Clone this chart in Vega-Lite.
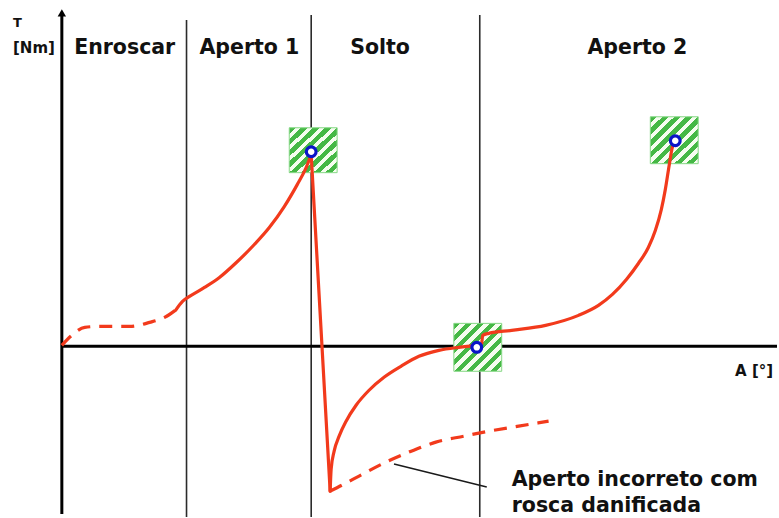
{
  "$schema": "https://vega.github.io/schema/vega-lite/v6.json",
  "width": 779,
  "height": 518,
  "padding": 0,
  "autosize": {"type": "fit", "contains": "padding"},
  "background": "white",
  "config": {"view": {"stroke": null}},
  "datasets": {
    "separadores": [
      {"a": 125, "t0": -171, "t1": 327},
      {"a": 250, "t0": -171, "t1": 332},
      {"a": 419, "t0": -171, "t1": 332}
    ],
    "eixos": [
      {"eixo": "T", "a0": 0, "a1": 0, "t0": -168, "t1": 331},
      {"eixo": "A", "a0": 0, "a1": 717, "t0": 0, "t1": 0}
    ],
    "janelas": [
      {"a0": 228, "a1": 276, "t0": 174, "t1": 219},
      {"a0": 393, "a1": 441, "t0": -25, "t1": 23},
      {"a0": 590, "a1": 638, "t0": 183, "t1": 230}
    ],
    "curvas": [
      {"serie": "aperto1", "o": 1, "a": 114, "t": 36},
      {"serie": "aperto1", "o": 2, "a": 121, "t": 45},
      {"serie": "aperto1", "o": 3, "a": 128, "t": 50},
      {"serie": "aperto1", "o": 4, "a": 143, "t": 59},
      {"serie": "aperto1", "o": 5, "a": 158, "t": 69},
      {"serie": "aperto1", "o": 6, "a": 175, "t": 84},
      {"serie": "aperto1", "o": 7, "a": 193, "t": 102},
      {"serie": "aperto1", "o": 8, "a": 208, "t": 119},
      {"serie": "aperto1", "o": 9, "a": 223, "t": 140},
      {"serie": "aperto1", "o": 10, "a": 236, "t": 162},
      {"serie": "aperto1", "o": 11, "a": 244, "t": 177},
      {"serie": "aperto1", "o": 12, "a": 250, "t": 192},
      {"serie": "queda", "o": 1, "a": 250, "t": 192},
      {"serie": "queda", "o": 2, "a": 269, "t": -145},
      {"serie": "solto", "o": 1, "a": 269, "t": -145},
      {"serie": "solto", "o": 2, "a": 270, "t": -123},
      {"serie": "solto", "o": 3, "a": 273, "t": -105},
      {"serie": "solto", "o": 4, "a": 278, "t": -90},
      {"serie": "solto", "o": 5, "a": 285, "t": -75},
      {"serie": "solto", "o": 6, "a": 295, "t": -59},
      {"serie": "solto", "o": 7, "a": 308, "t": -44},
      {"serie": "solto", "o": 8, "a": 323, "t": -31},
      {"serie": "solto", "o": 9, "a": 340, "t": -20},
      {"serie": "solto", "o": 10, "a": 358, "t": -10},
      {"serie": "solto", "o": 11, "a": 378, "t": -4},
      {"serie": "solto", "o": 12, "a": 398, "t": -1},
      {"serie": "solto", "o": 13, "a": 418, "t": 1},
      {"serie": "aperto2", "o": 1, "a": 421, "t": 3},
      {"serie": "aperto2", "o": 2, "a": 422, "t": 11},
      {"serie": "aperto2", "o": 3, "a": 428, "t": 13},
      {"serie": "aperto2", "o": 4, "a": 451, "t": 16},
      {"serie": "aperto2", "o": 5, "a": 485, "t": 21},
      {"serie": "aperto2", "o": 6, "a": 518, "t": 31},
      {"serie": "aperto2", "o": 7, "a": 538, "t": 41},
      {"serie": "aperto2", "o": 8, "a": 552, "t": 52},
      {"serie": "aperto2", "o": 9, "a": 566, "t": 67},
      {"serie": "aperto2", "o": 10, "a": 578, "t": 83},
      {"serie": "aperto2", "o": 11, "a": 588, "t": 99},
      {"serie": "aperto2", "o": 12, "a": 595, "t": 116},
      {"serie": "aperto2", "o": 13, "a": 601, "t": 137},
      {"serie": "aperto2", "o": 14, "a": 605, "t": 157},
      {"serie": "aperto2", "o": 15, "a": 609, "t": 182},
      {"serie": "aperto2", "o": 16, "a": 612, "t": 199},
      {"serie": "aperto2", "o": 17, "a": 614, "t": 205}
    ],
    "tracejadas": [
      {"serie": "enroscar", "o": 1, "a": 0, "t": 1},
      {"serie": "enroscar", "o": 2, "a": 10, "t": 11},
      {"serie": "enroscar", "o": 3, "a": 23, "t": 19},
      {"serie": "enroscar", "o": 4, "a": 38, "t": 20},
      {"serie": "enroscar", "o": 5, "a": 68, "t": 20},
      {"serie": "enroscar", "o": 6, "a": 88, "t": 24},
      {"serie": "enroscar", "o": 7, "a": 103, "t": 29},
      {"serie": "enroscar", "o": 8, "a": 115, "t": 37},
      {"serie": "danificada", "o": 1, "a": 269, "t": -145},
      {"serie": "danificada", "o": 2, "a": 281, "t": -139},
      {"serie": "danificada", "o": 3, "a": 298, "t": -130},
      {"serie": "danificada", "o": 4, "a": 325, "t": -116},
      {"serie": "danificada", "o": 5, "a": 348, "t": -106},
      {"serie": "danificada", "o": 6, "a": 375, "t": -96},
      {"serie": "danificada", "o": 7, "a": 403, "t": -90},
      {"serie": "danificada", "o": 8, "a": 428, "t": -85},
      {"serie": "danificada", "o": 9, "a": 458, "t": -80},
      {"serie": "danificada", "o": 10, "a": 488, "t": -75}
    ],
    "pontos": [
      {"a": 250, "t": 195},
      {"a": 416, "t": -1},
      {"a": 615, "t": 206}
    ],
    "rotulos_centro": [
      {"texto": "Enroscar", "a": 63, "t": 293},
      {"texto": "Aperto 1", "a": 188, "t": 293},
      {"texto": "Solto", "a": 319, "t": 293},
      {"texto": "Aperto 2", "a": 577, "t": 293}
    ],
    "rotulos_esquerda": [
      {"texto": "T", "a": -49, "t": 320, "tam": 13},
      {"texto": "[Nm]", "a": -49, "t": 294, "tam": 15},
      {"texto": "A [°]", "a": 675, "t": -30, "tam": 15},
      {"texto": "Aperto incorreto com", "a": 451, "t": -140, "tam": 20.5},
      {"texto": "rosca danificada", "a": 451, "t": -166, "tam": 20.5}
    ]
  },
  "layer": [
    {
      "data": {"name": "separadores"},
      "mark": {"type": "rule", "color": "#2b2b2b", "strokeWidth": 1.6},
      "encoding": {
        "x": {"field": "a", "type": "quantitative", "axis": null, "scale": {"domain": [-62, 717], "nice": false, "zero": false}},
        "y": {"field": "t0", "type": "quantitative", "axis": null, "scale": {"domain": [-171, 347], "nice": false, "zero": false}},
        "y2": {"field": "t1"}
      }
    },
    {
      "data": {"name": "eixos"},
      "mark": {"type": "rule", "color": "#000000", "strokeWidth": 3},
      "encoding": {
        "x": {"field": "a0", "type": "quantitative"},
        "x2": {"field": "a1"},
        "y": {"field": "t0", "type": "quantitative"},
        "y2": {"field": "t1"}
      }
    },
    {
      "data": {"values": [{"a": 0, "t": 334}]},
      "mark": {"type": "point", "shape": "triangle-up", "filled": true, "color": "#000000", "size": 70, "opacity": 1},
      "encoding": {
        "x": {"field": "a", "type": "quantitative"},
        "y": {"field": "t", "type": "quantitative"}
      }
    },
    {
      "data": {"name": "janelas"},
      "mark": {
        "type": "rect",
        "stroke": "#86d886",
        "strokeWidth": 1,
        "fill": {
          "gradient": "linear",
          "x1": 0, "y1": 0, "x2": 1, "y2": 1,
          "stops": [
            {"offset": 0, "color": "#45b845"},
            {"offset": 0.07, "color": "#45b845"},
            {"offset": 0.07, "color": "#f6fdf0"},
            {"offset": 0.125, "color": "#f6fdf0"},
            {"offset": 0.125, "color": "#45b845"},
            {"offset": 0.195, "color": "#45b845"},
            {"offset": 0.195, "color": "#f6fdf0"},
            {"offset": 0.25, "color": "#f6fdf0"},
            {"offset": 0.25, "color": "#45b845"},
            {"offset": 0.32, "color": "#45b845"},
            {"offset": 0.32, "color": "#f6fdf0"},
            {"offset": 0.375, "color": "#f6fdf0"},
            {"offset": 0.375, "color": "#45b845"},
            {"offset": 0.445, "color": "#45b845"},
            {"offset": 0.445, "color": "#f6fdf0"},
            {"offset": 0.5, "color": "#f6fdf0"},
            {"offset": 0.5, "color": "#45b845"},
            {"offset": 0.57, "color": "#45b845"},
            {"offset": 0.57, "color": "#f6fdf0"},
            {"offset": 0.625, "color": "#f6fdf0"},
            {"offset": 0.625, "color": "#45b845"},
            {"offset": 0.695, "color": "#45b845"},
            {"offset": 0.695, "color": "#f6fdf0"},
            {"offset": 0.75, "color": "#f6fdf0"},
            {"offset": 0.75, "color": "#45b845"},
            {"offset": 0.82, "color": "#45b845"},
            {"offset": 0.82, "color": "#f6fdf0"},
            {"offset": 0.875, "color": "#f6fdf0"},
            {"offset": 0.875, "color": "#45b845"},
            {"offset": 0.945, "color": "#45b845"},
            {"offset": 0.945, "color": "#f6fdf0"},
            {"offset": 1, "color": "#f6fdf0"}
          ]
        }
      },
      "encoding": {
        "x": {"field": "a0", "type": "quantitative"},
        "x2": {"field": "a1"},
        "y": {"field": "t0", "type": "quantitative"},
        "y2": {"field": "t1"}
      }
    },
    {
      "data": {"values": [{"a0": 333, "t0": -118, "a1": 426, "t1": -141}]},
      "mark": {"type": "rule", "color": "#1a1a1a", "strokeWidth": 1.5},
      "encoding": {
        "x": {"field": "a0", "type": "quantitative"},
        "x2": {"field": "a1"},
        "y": {"field": "t0", "type": "quantitative"},
        "y2": {"field": "t1"}
      }
    },
    {
      "data": {"name": "tracejadas"},
      "mark": {"type": "line", "color": "#f23a1c", "strokeWidth": 3.2, "strokeDash": [13, 9], "interpolate": "monotone"},
      "encoding": {
        "x": {"field": "a", "type": "quantitative"},
        "y": {"field": "t", "type": "quantitative"},
        "detail": {"field": "serie"},
        "order": {"field": "o", "type": "quantitative"}
      }
    },
    {
      "data": {"name": "curvas"},
      "mark": {"type": "line", "color": "#f23a1c", "strokeWidth": 3.2, "interpolate": "monotone", "strokeCap": "round", "strokeJoin": "round"},
      "encoding": {
        "x": {"field": "a", "type": "quantitative"},
        "y": {"field": "t", "type": "quantitative"},
        "detail": {"field": "serie"},
        "order": {"field": "o", "type": "quantitative"}
      }
    },
    {
      "data": {"name": "pontos"},
      "mark": {"type": "point", "shape": "circle", "filled": false, "fill": "white", "fillOpacity": 1, "stroke": "#0a14c8", "strokeWidth": 3.2, "size": 95, "opacity": 1},
      "encoding": {
        "x": {"field": "a", "type": "quantitative"},
        "y": {"field": "t", "type": "quantitative"}
      }
    },
    {
      "data": {"name": "rotulos_centro"},
      "mark": {"type": "text", "font": "DejaVu Sans", "fontWeight": "bold", "fontSize": 20.5, "align": "center", "baseline": "alphabetic", "color": "#111111"},
      "encoding": {
        "x": {"field": "a", "type": "quantitative"},
        "y": {"field": "t", "type": "quantitative"},
        "text": {"field": "texto"}
      }
    },
    {
      "data": {"name": "rotulos_esquerda"},
      "mark": {"type": "text", "font": "DejaVu Sans", "fontWeight": "bold", "align": "left", "baseline": "alphabetic", "color": "#111111"},
      "encoding": {
        "x": {"field": "a", "type": "quantitative"},
        "y": {"field": "t", "type": "quantitative"},
        "text": {"field": "texto"},
        "size": {"field": "tam", "type": "quantitative", "scale": null, "legend": null}
      }
    }
  ]
}
